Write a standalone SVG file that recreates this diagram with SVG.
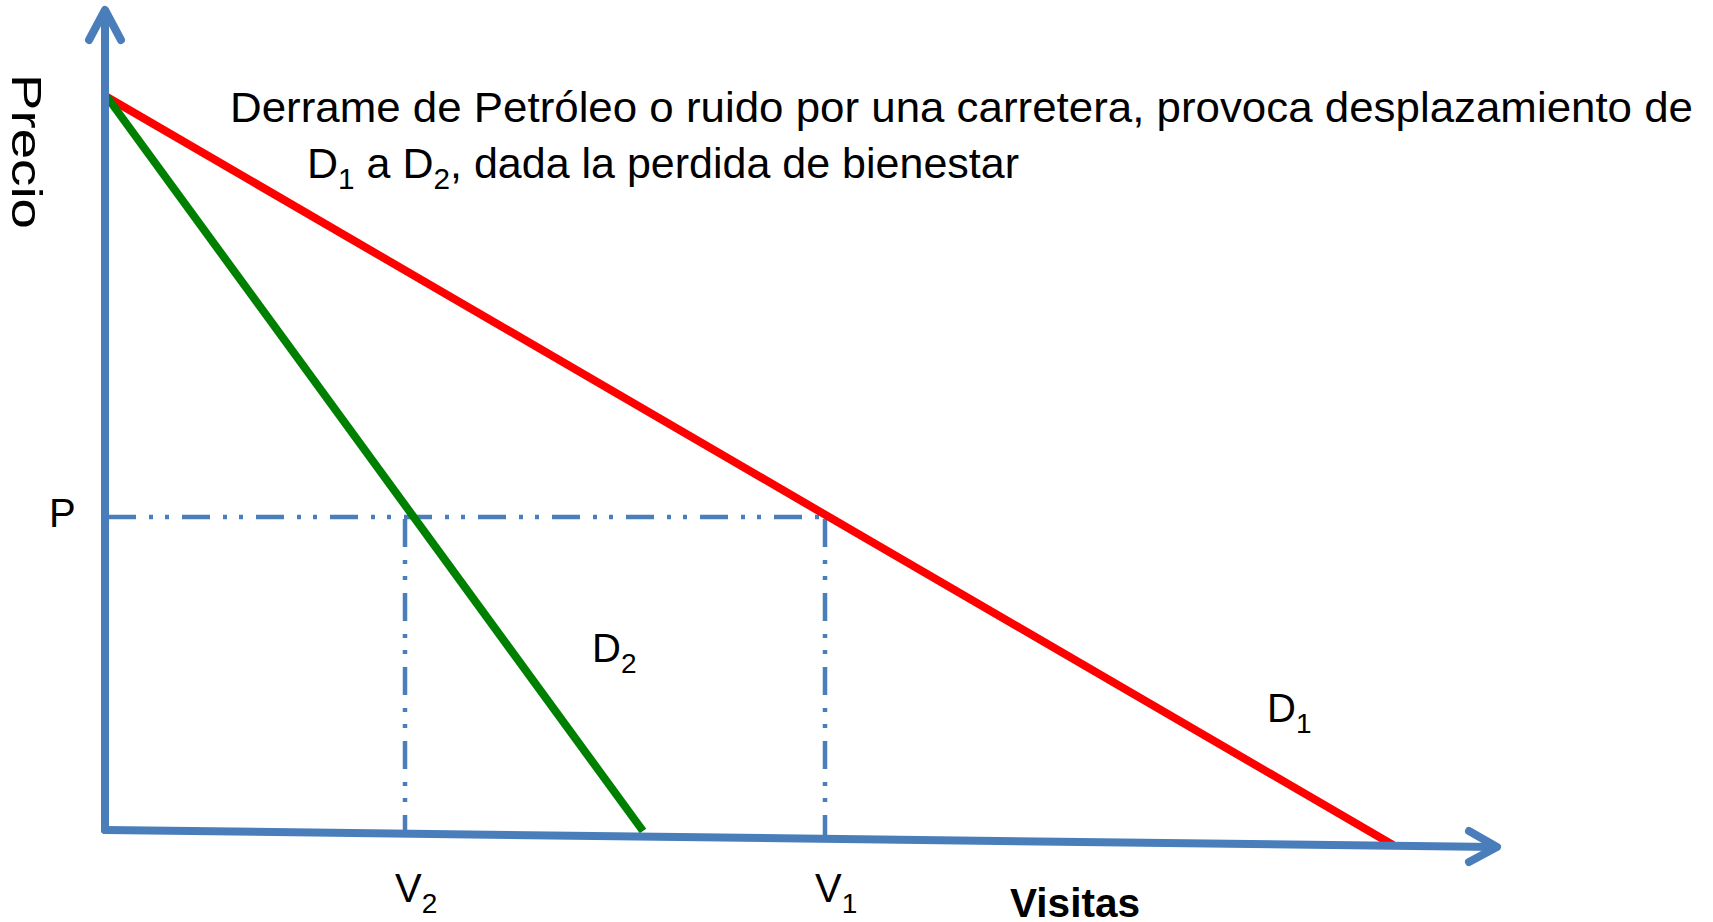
<svg xmlns="http://www.w3.org/2000/svg" width="1713" height="922" viewBox="0 0 1713 922">
<style>
.axis{stroke:#4A7EBB;stroke-width:8;fill:none;stroke-linecap:round;stroke-linejoin:round}
.guide{stroke:#4A7EBB;stroke-width:4.5;fill:none;stroke-dasharray:28 13 4 12 4 13}
.t{font-family:"Liberation Sans",Arial,sans-serif;fill:#000}
</style>
<rect width="1713" height="922" fill="#fff"/>
<g id="connectors">
<line class="guide" x1="108" y1="517" x2="822" y2="517"/>
<line class="guide" x1="405" y1="519" x2="405" y2="834"/>
<line class="guide" x1="825" y1="519" x2="825" y2="839"/>
<line x1="107" y1="97" x2="1393" y2="845" stroke="#FF0000" stroke-width="8"/>
<line x1="107" y1="97" x2="643" y2="831" stroke="#008000" stroke-width="8"/>
</g>
<g id="axes">
<line class="axis" x1="105" y1="830" x2="105" y2="12"/>
<polyline class="axis" points="89,40 105,10 121,40"/>
<line class="axis" x1="105" y1="830" x2="1495" y2="847"/>
<polyline class="axis" points="1469,831 1497,847 1469,862"/>
</g>
<g id="title">
<text class="t" x="230" y="122" font-size="42" textLength="1463" lengthAdjust="spacingAndGlyphs">Derrame de Petróleo o ruido por una carretera, provoca desplazamiento de</text>
<text class="t" x="307" y="178" font-size="42" textLength="712" lengthAdjust="spacingAndGlyphs">D<tspan font-size="29" dy="11">1</tspan><tspan dy="-11"> a D</tspan><tspan font-size="29" dy="11">2</tspan><tspan dy="-11">, dada la perdida de bienestar</tspan></text>
</g>
<g id="labels">
<text class="t" font-size="43" transform="translate(12,74) rotate(90)" textLength="155" lengthAdjust="spacingAndGlyphs">Precio</text>
<text class="t" x="49" y="527" font-size="40">P</text>
<text class="t" x="592" y="662" font-size="40">D<tspan font-size="28" dy="11">2</tspan></text>
<text class="t" x="1267" y="722" font-size="40">D<tspan font-size="28" dy="11">1</tspan></text>
<text class="t" x="395" y="902" font-size="40">V<tspan font-size="28" dy="11">2</tspan></text>
<text class="t" x="815" y="902" font-size="40">V<tspan font-size="28" dy="11">1</tspan></text>
<text class="t" x="1010" y="917" font-size="40" font-weight="bold" textLength="130" lengthAdjust="spacingAndGlyphs">Visitas</text>
</g>
</svg>
